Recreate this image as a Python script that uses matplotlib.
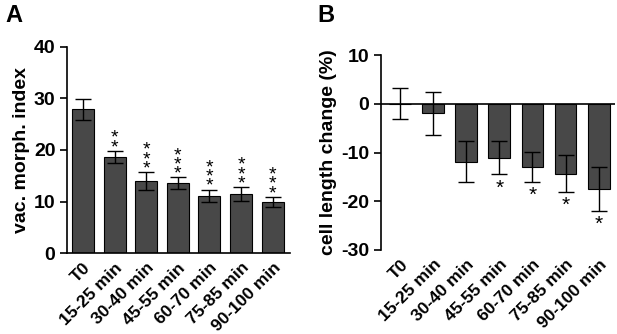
import matplotlib
matplotlib.use("Agg")
import matplotlib.pyplot as plt
import numpy as np

plt.rcParams["font.family"] = ["Liberation Sans", "DejaVu Sans"]
plt.rcParams["font.weight"] = "bold"
plt.rcParams["axes.unicode_minus"] = False

categories = ["T0", "15-25 min", "30-40 min", "45-55 min", "60-70 min", "75-85 min", "90-100 min"]

# Panel A: vacuolar morphology index
vac_mean = [27.9, 18.6, 14.0, 13.6, 11.1, 11.5, 9.9]
vac_err = [2.0, 1.2, 1.7, 1.1, 1.2, 1.3, 1.0]
vac_sig = ["", "**", "***", "***", "***", "***", "***"]

# Panel B: cell length change (%)
len_mean = [0.0, -1.9, -11.9, -11.1, -12.9, -14.3, -17.4]
len_err = [3.2, 4.4, 4.2, 3.4, 3.1, 3.7, 4.5]
len_sig = ["", "", "", "*", "*", "*", "*"]

BAR_COLOR = "#484848"

fig = plt.figure(figsize=(6.17, 3.34), dpi=100)
axA = fig.add_axes([0.109, 0.242, 0.361, 0.618])
axB = fig.add_axes([0.6175, 0.2515, 0.3795, 0.5835])

x = np.arange(len(categories))

# ── Panel A ──
axA.bar(x, vac_mean, width=0.7, color=BAR_COLOR, edgecolor="black", linewidth=0.8, zorder=2)
axA.errorbar(x, vac_mean, yerr=vac_err, fmt="none", ecolor="black", elinewidth=1,
             capsize=6, capthick=1, zorder=3)
for xi, m, e, s in zip(x, vac_mean, vac_err, vac_sig):
    if s:
        # stacked asterisks
        axA.text(xi, m + e - 1.0, "\n".join(s), ha="center", va="bottom",
                 fontsize=14, fontweight="normal", linespacing=0.4)
axA.set_xlim(-0.5, 6.55)
axA.set_ylim(0, 40)
axA.set_yticks([0, 10, 20, 30, 40])
axA.set_ylabel("vac. morph. index", fontsize=14, fontweight="bold", labelpad=3)

# ── Panel B ──
axB.bar(x, len_mean, width=0.66, color=BAR_COLOR, edgecolor="black", linewidth=0.8, zorder=2)
axB.errorbar(x, len_mean, yerr=len_err, fmt="none", ecolor="black", elinewidth=1,
             capsize=6, capthick=1, zorder=3)
axB.axhline(0, color="black", linewidth=1.2, zorder=4)
for xi, m, e, s in zip(x, len_mean, len_err, len_sig):
    if s:
        axB.text(xi, m - e - 0.8, s, ha="center", va="top",
                 fontsize=15, fontweight="normal")
axB.set_xlim(-0.58, 6.5)
axB.set_ylim(-30, 10)
axB.set_yticks([-30, -20, -10, 0, 10])
axB.set_ylabel("cell length change (%)", fontsize=14, fontweight="bold", labelpad=3)
axB.spines["bottom"].set_visible(False)

for ax in (axA, axB):
    ax.spines["top"].set_visible(False)
    ax.spines["right"].set_visible(False)
    ax.spines["left"].set_linewidth(1.2)
    ax.spines["bottom"].set_linewidth(1.2)
    ax.set_xticks(x)
    ax.set_xticklabels(categories, rotation=45, ha="right", rotation_mode="anchor",
                       fontsize=12.5, fontweight="bold")
    ax.tick_params(axis="x", length=0, pad=5)
    ax.tick_params(axis="y", length=5, width=1.2, labelsize=14)
    for lab in ax.get_yticklabels():
        lab.set_fontweight("bold")

fig.text(0.008, 0.955, "A", fontsize=17, fontweight="bold", va="center")
fig.text(0.515, 0.955, "B", fontsize=17, fontweight="bold", va="center")

fig.savefig("out.png", dpi=100)
